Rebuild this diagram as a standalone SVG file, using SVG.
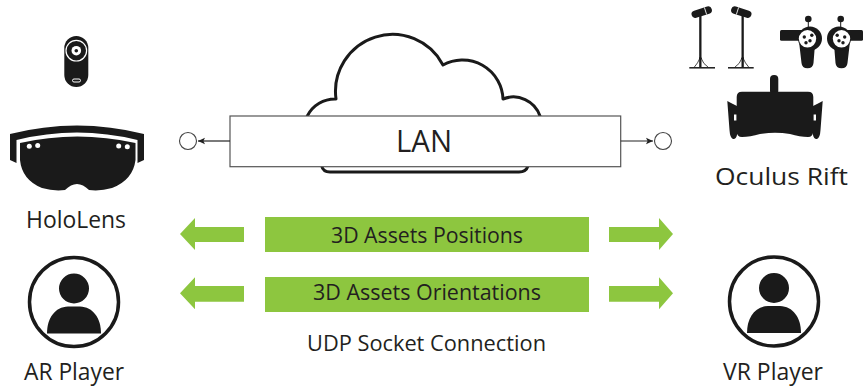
<svg xmlns="http://www.w3.org/2000/svg" width="867" height="390" viewBox="0 0 867 390">
  <style>
    .lbl { font-family: "Open Sans", "Noto Sans", "Liberation Sans", sans-serif; fill: #231f20; text-anchor: middle; }
    .dev { font-size: 24px; }
    .bar { fill: #8dc63f; }
    .blk { fill: #1a1a1a; }
    .wht { fill: #ffffff; }
    .thin { stroke: #444; stroke-width: 1; fill: none; }
  </style>
  <defs>
    <marker id="tip" markerWidth="8" markerHeight="8" refX="7" refY="4" orient="auto" markerUnits="userSpaceOnUse">
      <path d="M0,0.8 L7,4 L0,7.2 L1.6,4 Z" fill="#222"/>
    </marker>
    <!-- generic user avatar -->
    <g id="avatar">
      <circle cx="0" cy="0" r="44.5" fill="none" stroke="#1a1a1a" stroke-width="3.5"/>
      <path class="blk" d="M-27,31.5 C-27,16 -19,5 -6,4.5 L6,4.5 C19,5 27,16 27,31.5 Z"/>
      <circle class="blk" cx="0" cy="-13.5" r="16" stroke="#fff" stroke-width="2"/>
    </g>
  </defs>

  <rect width="867" height="390" fill="#ffffff"/>

  <!-- LAN cloud -->
  <g id="lan">
    <path d="M307.3,116 A31,31 0 0 1 336,99 A57,57 0 0 1 443,65 A40.5,40.5 0 0 1 503,99 A28,28 0 0 1 540,116 L528,166 Q526,172 519,172 L330,172 Q323,172 321.7,166 Z" fill="#fff" stroke="#1a1a1a" stroke-width="3" stroke-linejoin="round"/>
    <rect x="230" y="116" width="390.7" height="50.7" fill="#fff" stroke="#555" stroke-width="1.2"/>
    <text class="lbl" x="424" y="152" font-size="31" textLength="56" lengthAdjust="spacingAndGlyphs">LAN</text>
  </g>

  <!-- LAN endpoints -->
  <g id="endpoint-left"><circle cx="188" cy="141" r="8.5" fill="#fff" stroke="#444" stroke-width="1.1"/></g>
  <g id="endpoint-right"><circle cx="663" cy="141" r="8.5" fill="#fff" stroke="#444" stroke-width="1.1"/></g>

  <!-- HoloLens clicker + headset -->
  <g id="hololens">
    <rect class="blk" x="64.3" y="36" width="24" height="51" rx="12"/>
    <circle cx="76.3" cy="50.7" r="10.3" fill="none" stroke="#fff" stroke-width="1.2"/>
    <circle class="wht" cx="76.3" cy="50.7" r="4.8"/>
    <circle class="blk" cx="76.3" cy="50.7" r="1.8"/>
    <rect x="72.5" y="79" width="8" height="3" rx="1.5" fill="none" stroke="#fff" stroke-width="1"/>

    <path class="blk" d="M10,134 Q77,117 144,134 L144,160 L137.5,163 L137.5,140 Q77,125 16.5,140 L16.5,163 L10,160 Z"/>
    <path class="blk" d="M20,143 Q77,130 135.5,143 L135.5,160 Q133,180 112,188 Q100,191.5 89,190 Q83,184 77,184 Q71,184 65,190 Q54,191.5 42,188 Q22,180 20,160 Z"/>
    <circle class="wht" cx="29.3" cy="146.3" r="2.5"/>
    <circle class="wht" cx="37.7" cy="145.6" r="2.5"/>
    <circle class="wht" cx="118.7" cy="146" r="2.5"/>
    <circle class="wht" cx="127.3" cy="146.7" r="2.5"/>
    <text class="lbl dev" x="76" y="228" textLength="100" lengthAdjust="spacingAndGlyphs">HoloLens</text>
  </g>

  <!-- Oculus sensors, touch controllers and headset -->
  <g id="oculus-rift">
    <g id="sensor-a">
      <g transform="translate(701.7,12.2) rotate(-17.6)">
        <rect class="blk" x="-10.5" y="-3.7" width="21" height="7.4" rx="3.7"/>
        <line x1="4" y1="-3.7" x2="4" y2="3.7" stroke="#fff" stroke-width="0.8"/>
      </g>
      <rect class="blk" x="699.2" y="15" width="2.3" height="52.5"/>
      <line x1="689.3" y1="67.8" x2="715" y2="67.8" stroke="#1a1a1a" stroke-width="1.5"/>
      <path d="M700,58 Q698,63 694,67.5 M701,58 Q703,64 708.5,67.5" fill="none" stroke="#1a1a1a" stroke-width="0.8"/>
      <circle class="blk" cx="700.3" cy="58.3" r="1.3"/>
    </g>
    <use href="#sensor-a" transform="translate(1443,0) scale(-1,1)"/>

    <g id="touch-left">
      <rect class="blk" x="780" y="30" width="24" height="10.7" rx="1.5"/>
      <path class="blk" d="M799.3,44 L815,44 L813.5,63 Q813,68.3 807.5,68.3 Q802,68.3 801.5,63 Z"/>
      <circle class="blk" cx="810" cy="38.5" r="12"/>
      <circle class="wht" cx="807.5" cy="38.8" r="8.7"/>
      <line x1="808.3" y1="21" x2="808.3" y2="30" stroke="#1a1a1a" stroke-width="1"/>
      <circle class="blk" cx="808.3" cy="19" r="3.3"/>
      <circle class="blk" cx="804.3" cy="37" r="1.7"/>
      <circle class="blk" cx="811.8" cy="35.3" r="1.7"/>
      <circle class="blk" cx="810" cy="40.8" r="1.7"/>
      <circle class="blk" cx="806" cy="42.8" r="1.7"/>
    </g>
    <g id="touch-right" transform="translate(1649,0) scale(-1,1)">
      <rect class="blk" x="786" y="30" width="18" height="10.7" rx="1.5"/>
      <path class="blk" d="M799.3,44 L815,44 L813.5,63 Q813,68.3 807.5,68.3 Q802,68.3 801.5,63 Z"/>
      <circle class="blk" cx="810" cy="38.5" r="12"/>
      <circle class="wht" cx="807.5" cy="38.8" r="8.7"/>
      <line x1="808.3" y1="21" x2="808.3" y2="30" stroke="#1a1a1a" stroke-width="1"/>
      <circle class="blk" cx="808.3" cy="19" r="3.3"/>
      <circle class="blk" cx="804.3" cy="37" r="1.7"/>
      <circle class="blk" cx="811.8" cy="35.3" r="1.7"/>
      <circle class="blk" cx="810" cy="40.8" r="1.7"/>
      <circle class="blk" cx="806" cy="42.8" r="1.7"/>
    </g>

    <g id="rift-headset">
      <rect class="blk" x="770" y="75" width="8.3" height="20" rx="4"/>
      <path class="blk" d="M742,91.7 L808,91.7 Q813.3,91.7 813.3,97 L813.3,131 Q813,137 808,137 Q800,137 790,134 Q775,131.5 760,134 Q750,137 742,137 Q736.7,137 736.7,131 L736.7,97 Q736.7,91.7 742,91.7 Z"/>
      <g id="rift-flap">
        <path class="blk" d="M727.3,101 L731,103 L737,106 L737,135 Q736,139.5 733,139 Q730,138 729.5,130 Z"/>
        <rect class="wht" x="734" y="114.5" width="2.4" height="6"/>
      </g>
      <use href="#rift-flap" transform="translate(1550,0) scale(-1,1)"/>
    </g>
    <text class="lbl dev" x="781.5" y="185" textLength="133" lengthAdjust="spacingAndGlyphs">Oculus Rift</text>
  </g>

  <!-- players -->
  <g id="ar-player">
    <use href="#avatar" transform="translate(74,302)"/>
    <text class="lbl dev" x="74" y="380" textLength="100" lengthAdjust="spacingAndGlyphs">AR Player</text>
  </g>
  <g id="vr-player">
    <use href="#avatar" transform="translate(774,301.5)"/>
    <text class="lbl dev" x="773" y="380" textLength="100" lengthAdjust="spacingAndGlyphs">VR Player</text>
  </g>

  <!-- data channels -->
  <g id="positions">
    <rect class="bar" x="265" y="217" width="324" height="35"/>
    <text class="lbl" x="427" y="243" font-size="22.5" textLength="192" lengthAdjust="spacingAndGlyphs">3D Assets Positions</text>
  </g>
  <g id="orientations">
    <rect class="bar" x="265" y="277" width="324" height="35"/>
    <text class="lbl" x="427" y="300" font-size="22.5" textLength="228" lengthAdjust="spacingAndGlyphs">3D Assets Orientations</text>
  </g>
  <g id="udp-caption">
    <text class="lbl" x="426.5" y="351" font-size="22.5" textLength="239" lengthAdjust="spacingAndGlyphs">UDP Socket Connection</text>
  </g>

  <!-- connectors -->
  <g id="connectors">
    <line x1="230" y1="141" x2="198" y2="141" stroke="#222" stroke-width="1.2" marker-end="url(#tip)"/>
    <line x1="620.7" y1="141" x2="653" y2="141" stroke="#222" stroke-width="1.2" marker-end="url(#tip)"/>
    <polygon class="bar" points="180,234 195,218 195,227 244,227 244,242 195,242 195,250"/>
    <polygon class="bar" points="673,234 659,218 659,227 609,227 609,242 659,242 659,250"/>
    <polygon class="bar" points="180,293.3 195,277.3 195,286 244,286 244,301.7 195,301.7 195,309.3"/>
    <polygon class="bar" points="673,293.3 659,277.3 659,286 609,286 609,301.7 659,301.7 659,309.3"/>
  </g>
</svg>
